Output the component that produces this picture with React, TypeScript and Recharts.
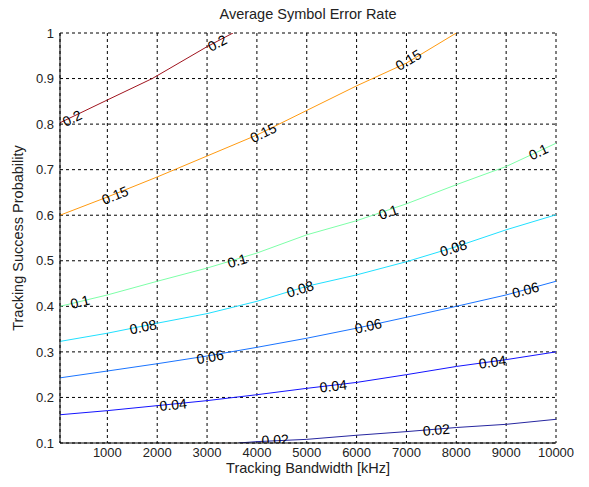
import * as React from 'react';
import { ComposedChart, Line, Scatter, XAxis, YAxis, CartesianGrid } from 'recharts';

// contour lines of the average symbol error rate
const contour02 = [
  { x: 50, y: 0.803 }, { x: 1000, y: 0.853 }, { x: 1900, y: 0.9 },
  { x: 3000, y: 0.97 }, { x: 3520, y: 1.0 },
];
const contour015 = [
  { x: 50, y: 0.6 }, { x: 1000, y: 0.64 }, { x: 2000, y: 0.684 }, { x: 3000, y: 0.73 },
  { x: 4000, y: 0.776 }, { x: 5000, y: 0.83 }, { x: 6000, y: 0.884 }, { x: 7000, y: 0.934 },
  { x: 8000, y: 1.0 },
];
const contour01 = [
  { x: 50, y: 0.4 }, { x: 1000, y: 0.425 }, { x: 2000, y: 0.455 }, { x: 3000, y: 0.484 },
  { x: 4000, y: 0.517 }, { x: 5000, y: 0.557 }, { x: 6000, y: 0.588 }, { x: 7000, y: 0.625 },
  { x: 8000, y: 0.667 }, { x: 9000, y: 0.707 }, { x: 10000, y: 0.758 },
];
const contour008 = [
  { x: 50, y: 0.323 }, { x: 1000, y: 0.341 }, { x: 2000, y: 0.363 }, { x: 3000, y: 0.384 },
  { x: 4000, y: 0.411 }, { x: 5000, y: 0.444 }, { x: 6000, y: 0.469 }, { x: 7000, y: 0.498 },
  { x: 8000, y: 0.531 }, { x: 9000, y: 0.568 }, { x: 10000, y: 0.601 },
];
const contour006 = [
  { x: 50, y: 0.243 }, { x: 1000, y: 0.258 }, { x: 2000, y: 0.274 }, { x: 3000, y: 0.291 },
  { x: 4000, y: 0.31 }, { x: 5000, y: 0.33 }, { x: 6000, y: 0.352 }, { x: 7000, y: 0.376 },
  { x: 8000, y: 0.4 }, { x: 9000, y: 0.425 }, { x: 10000, y: 0.455 },
];
const contour004 = [
  { x: 50, y: 0.162 }, { x: 1000, y: 0.171 }, { x: 2000, y: 0.182 }, { x: 3000, y: 0.193 },
  { x: 4000, y: 0.206 }, { x: 5000, y: 0.22 }, { x: 6000, y: 0.233 }, { x: 7000, y: 0.25 },
  { x: 8000, y: 0.268 }, { x: 9000, y: 0.283 }, { x: 10000, y: 0.3 },
];
const contour002 = [
  { x: 3630, y: 0.1 }, { x: 4000, y: 0.103 }, { x: 5000, y: 0.108 }, { x: 6000, y: 0.117 },
  { x: 7000, y: 0.125 }, { x: 8000, y: 0.134 }, { x: 9000, y: 0.141 }, { x: 10000, y: 0.152 },
];

// clabel positions
const labels02 = [{ x: 291, y: 0.813 }, { x: 3203, y: 0.978 }];
const labels015 = [{ x: 1155, y: 0.644 }, { x: 4127, y: 0.781 }, { x: 7038, y: 0.941 }];
const labels01 = [{ x: 452, y: 0.41 }, { x: 3604, y: 0.5 }, { x: 6636, y: 0.607 }, { x: 9649, y: 0.739 }];
const labels008 = [{ x: 1717, y: 0.355 }, { x: 4869, y: 0.438 }, { x: 7942, y: 0.528 }];
const labels006 = [{ x: 3062, y: 0.289 }, { x: 6235, y: 0.357 }, { x: 9388, y: 0.436 }];
const labels004 = [{ x: 2319, y: 0.184 }, { x: 5532, y: 0.225 }, { x: 8725, y: 0.278 }];
const labels002 = [{ x: 4367, y: 0.107 }, { x: 7600, y: 0.129 }];

const xTicks = [1000, 2000, 3000, 4000, 5000, 6000, 7000, 8000, 9000, 10000];
const yTicks = [0.1, 0.2, 0.3, 0.4, 0.5, 0.6, 0.7, 0.8, 0.9, 1];

const levels = [
  { name: '0.2', line: contour02, labels: labels02, color: '#a0141e' },
  { name: '0.15', line: contour015, labels: labels015, color: '#ff9a10' },
  { name: '0.1', line: contour01, labels: labels01, color: '#7dffa8' },
  { name: '0.08', line: contour008, labels: labels008, color: '#20e0ff' },
  { name: '0.06', line: contour006, labels: labels006, color: '#1a74ff' },
  { name: '0.04', line: contour004, labels: labels004, color: '#1414ff' },
  { name: '0.02', line: contour002, labels: labels002, color: '#2626a0' },
];

const W = 589;
const H = 487;
const font = '"Liberation Sans", Arial, sans-serif';
// pixels per data unit of the plot box (496 x 410 px)
const PX_X = 496 / 9950;
const PX_Y = 410 / 0.9;

const angleAt = (line: { x: number; y: number }[], x: number) => {
  let i = 0;
  while (i < line.length - 2 && line[i + 1].x < x) i++;
  const a = line[i];
  const b = line[i + 1];
  return (-Math.atan2((b.y - a.y) * PX_Y, (b.x - a.x) * PX_X) * 180) / Math.PI;
};

const makeShape = (name: string, line: { x: number; y: number }[]) => (props: any) => {
  const { cx, cy, payload } = props;
  const ang = angleAt(line, payload.x);
  return (
    <text
      x={cx}
      y={cy}
      transform={`rotate(${ang} ${cx} ${cy})`}
      textAnchor="middle"
      dominantBaseline="central"
      fontSize={14}
      fontFamily={font}
      fill="#000"
    >
      {name}
    </text>
  );
};

const App = () => {
  return (
    <div style={{ position: 'absolute', left: 0, top: 0, width: W, height: H, background: '#fff' }}>
      <ComposedChart width={W} height={H} margin={{ top: 33, right: 33, left: 0, bottom: 0 }}>
        <CartesianGrid stroke="#000" strokeDasharray="3 3" xAxisId="b" yAxisId="l" />
        <XAxis
          xAxisId="b"
          type="number"
          dataKey="x"
          domain={[50, 10000]}
          ticks={xTicks}
          allowDataOverflow
          height={44}
          tickSize={0}
          tickMargin={5}
          axisLine={{ stroke: '#000' }}
          tick={{ fill: '#222', fontSize: 13, fontFamily: font }}
        />
        <XAxis xAxisId="t" orientation="top" type="number" domain={[50, 10000]} height={0} tick={false} tickLine={false} axisLine={{ stroke: '#000' }} />
        <YAxis
          yAxisId="l"
          type="number"
          domain={[0.1, 1]}
          ticks={yTicks}
          allowDataOverflow
          width={60}
          tickSize={0}
          tickMargin={6}
          axisLine={{ stroke: '#000' }}
          tickFormatter={(v: number) => String(Math.round(v * 10) / 10)}
          tick={{ fill: '#222', fontSize: 13, fontFamily: font }}
        />
        <YAxis yAxisId="r" orientation="right" domain={[0.1, 1]} width={0} tick={false} tickLine={false} axisLine={{ stroke: '#000' }} />
        {levels.map((lv) => (
          <Line
            key={'l' + lv.name}
            xAxisId="b"
            yAxisId="l"
            data={lv.line}
            dataKey="y"
            type="linear"
            stroke={lv.color}
            strokeWidth={1}
            dot={false}
            activeDot={false}
            isAnimationActive={false}
          />
        ))}
        {levels.map((lv) => (
          <Scatter
            key={'s' + lv.name}
            xAxisId="b"
            yAxisId="l"
            data={lv.labels}
            dataKey="y"
            shape={makeShape(lv.name, lv.line)}
            isAnimationActive={false}
          />
        ))}
      </ComposedChart>
      <div style={{ position: 'absolute', left: 60, width: 496, top: 6, lineHeight: '16px', textAlign: 'center', fontFamily: font, fontSize: 14.5, color: '#222' }}>
        Average Symbol Error Rate
      </div>
      <div style={{ position: 'absolute', left: 60, width: 496, top: 461, lineHeight: '15px', textAlign: 'center', fontFamily: font, fontSize: 14.5, color: '#222' }}>
        Tracking Bandwidth [kHz]
      </div>
      <div
        style={{
          position: 'absolute',
          left: 18,
          top: 238,
          transform: 'translate(-50%, -50%) rotate(-90deg)',
          whiteSpace: 'nowrap',
          lineHeight: '16px',
          fontFamily: font,
          fontSize: 14.5,
          color: '#222',
        }}
      >
        Tracking Success Probability
      </div>
    </div>
  );
};

export default App;
